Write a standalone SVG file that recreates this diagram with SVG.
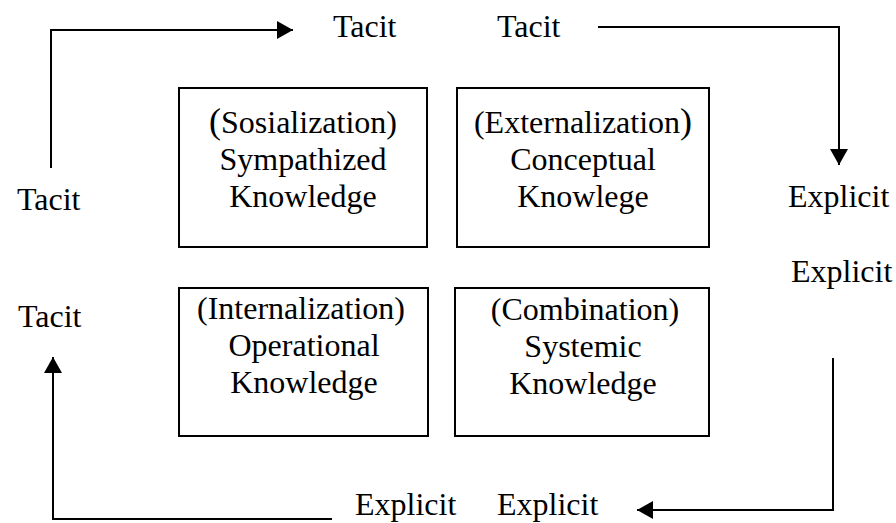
<svg xmlns="http://www.w3.org/2000/svg" width="896" height="523" viewBox="0 0 896 523">
<style>
text{font-family:"Liberation Serif","Times New Roman",serif;font-size:32px;fill:#000}
.c{text-anchor:middle}
.box{fill:#fff;stroke:#000;stroke-width:2}
.ln{fill:none;stroke:#000;stroke-width:2}
.big{font-size:36px}
</style>
<defs>
<marker id="ah" viewBox="0 0 16 18" refX="16" refY="9" markerWidth="16" markerHeight="18" markerUnits="userSpaceOnUse" orient="auto">
<path d="M0,0 L16,9 L0,18 Z" fill="#000"/>
</marker>
</defs>
<rect width="896" height="523" fill="#fff"/>
<g id="connectors">
<polyline class="ln" points="51,168 51,30 293,30" marker-end="url(#ah)"/>
<polyline class="ln" points="598,27 839,27 839,165" marker-end="url(#ah)"/>
<polyline class="ln" points="833,358 833,510 637,510" marker-end="url(#ah)"/>
<polyline class="ln" points="332,519 53,519 53,357" marker-end="url(#ah)"/>
</g>
<g id="socialization">
<rect class="box" x="179" y="88" width="248" height="159"/>
<text class="c" x="303" y="133"><tspan class="big">(</tspan>Sosialization)</text>
<text class="c" x="303" y="170">Sympathized</text>
<text class="c" x="303" y="207">Knowledge</text>
</g>
<g id="externalization">
<rect class="box" x="457" y="88" width="252" height="159"/>
<text class="c" x="583" y="133">(Externalization<tspan class="big">)</tspan></text>
<text class="c" x="583" y="170">Conceptual</text>
<text class="c" x="583" y="207">Knowlege</text>
</g>
<g id="internalization">
<rect class="box" x="179" y="288" width="249" height="148"/>
<text class="c" x="301" y="319">(Internalization)</text>
<text class="c" x="304" y="356">Operational</text>
<text class="c" x="304" y="393">Knowledge</text>
</g>
<g id="combination">
<rect class="box" x="455" y="288" width="254" height="148"/>
<text class="c" x="585" y="320">(Combination)</text>
<text class="c" x="583" y="357">Systemic</text>
<text class="c" x="583" y="394">Knowledge</text>
</g>
<g id="labels">
<text x="333" y="37">Tacit</text>
<text x="497" y="37">Tacit</text>
<text x="788" y="207">Explicit</text>
<text x="791" y="282">Explicit</text>
<text x="17" y="210">Tacit</text>
<text x="18" y="327">Tacit</text>
<text x="355" y="515">Explicit</text>
<text x="497" y="515">Explicit</text>
</g>
</svg>
